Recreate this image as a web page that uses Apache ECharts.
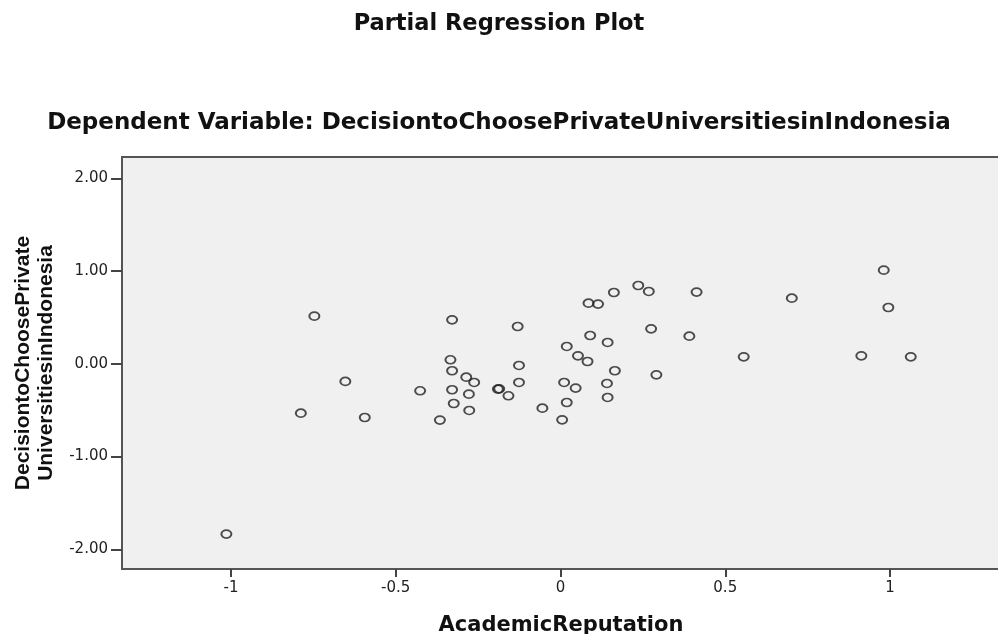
<!DOCTYPE html>
<html>
<head>
<meta charset="utf-8">
<script src="https://cdn.jsdelivr.net/npm/echarts@6/dist/echarts.min.js"></script>
<style>
  html, body { margin: 0; padding: 0; background: #ffffff; }
  #chart { width: 998px; height: 634px; }
</style>
</head>
<body>
<div id="chart"></div>
<script>
// Partial regression residuals: AcademicReputation (x) vs decision (y)
const academicReputation = [
  -1.014, -0.788, -0.747, -0.653, -0.594, -0.426, -0.366, -0.334, -0.329, -0.329,
  -0.329, -0.324, -0.286, -0.278, -0.277, -0.262, -0.190, -0.186, -0.158, -0.130,
  -0.126, -0.126, -0.055, 0.005, 0.011, 0.019, 0.019, 0.046, 0.053, 0.082,
  0.085, 0.090, 0.114, 0.141, 0.143, 0.143, 0.162, 0.165, 0.236, 0.268,
  0.275, 0.291, 0.391, 0.413, 0.556, 0.702, 0.913, 0.981, 0.995, 1.063
];
const decisionResidual = [
  -1.836, -0.532, 0.514, -0.190, -0.579, -0.291, -0.607, 0.043, 0.474, -0.075,
  -0.280, -0.428, -0.144, -0.327, -0.503, -0.201, -0.273, -0.270, -0.345, 0.402,
  -0.018, -0.201, -0.478, -0.604, -0.201, -0.417, 0.187, -0.262, 0.086, 0.025,
  0.654, 0.305, 0.644, -0.212, 0.230, -0.363, 0.769, -0.075, 0.844, 0.780,
  0.377, -0.119, 0.298, 0.773, 0.075, 0.708, 0.086, 1.010, 0.607, 0.075
];
const xTickValues = [-1, -0.5, 0, 0.5, 1];
const yTickValues = [-2, -1, 0, 1, 2];

const points = academicReputation.map((x, i) => [x, decisionResidual[i]]);

const chart = echarts.init(document.getElementById('chart'), null, { renderer: 'canvas' });

const axisColor = '#555555';
const labelFont = { fontFamily: 'DejaVu Sans', fontSize: 15, color: '#222222' };

chart.setOption({
  backgroundColor: '#ffffff',
  animation: false,
  title: [
    {
      text: 'Partial Regression Plot',
      left: 'center',
      top: 13,
      padding: 0,
      textStyle: { fontFamily: 'DejaVu Sans', fontWeight: 'bold', fontSize: 22.5, color: '#111111' }
    },
    {
      text: 'Dependent Variable: DecisiontoChoosePrivateUniversitiesinIndonesia',
      left: 'center',
      top: 112,
      padding: 0,
      textStyle: { fontFamily: 'DejaVu Sans', fontWeight: 'bold', fontSize: 23, color: '#111111' }
    }
  ],
  grid: {
    left: 122,
    top: 157,
    right: -2,
    bottom: 65,
    outerBoundsMode: 'none',
    containLabel: false,
    show: true,
    backgroundColor: '#f0f0f0',
    borderColor: axisColor,
    borderWidth: 2
  },
  xAxis: {
    type: 'value',
    min: -1.3308,
    max: 1.3338,
    name: 'AcademicReputation',
    nameLocation: 'middle',
    nameGap: 46,
    nameTextStyle: { fontFamily: 'DejaVu Sans', fontWeight: 'bold', fontSize: 21, color: '#111111' },
    axisLine: { show: true, onZero: false, lineStyle: { color: axisColor, width: 2 } },
    axisTick: { show: true, length: 8, customValues: xTickValues, lineStyle: { color: '#444444', width: 2 } },
    axisLabel: Object.assign({ margin: 12, customValues: xTickValues, formatter: v => String(v) }, labelFont),
    splitLine: { show: false }
  },
  yAxis: {
    type: 'value',
    min: -2.2124,
    max: 2.2297,
    name: 'DecisiontoChoosePrivate\nUniversitiesinIndonesia',
    nameLocation: 'middle',
    nameRotate: 90,
    nameGap: 64,
    nameTextStyle: { fontFamily: 'Liberation Sans', fontWeight: 'bold', fontSize: 21, lineHeight: 23, color: '#111111' },
    axisLine: { show: true, onZero: false, lineStyle: { color: axisColor, width: 2 } },
    axisTick: { show: true, length: 11, customValues: yTickValues, lineStyle: { color: '#444444', width: 2 } },
    axisLabel: Object.assign({ margin: 14, customValues: yTickValues, formatter: v => v.toFixed(2) }, labelFont),
    splitLine: { show: false }
  },
  series: [
    {
      type: 'scatter',
      data: points,
      symbol: 'circle',
      symbolSize: [10, 8],
      itemStyle: { color: 'rgba(0,0,0,0)', borderColor: '#222222', borderWidth: 1.8 },
      emphasis: { disabled: true }
    }
  ]
});
</script>
</body>
</html>
